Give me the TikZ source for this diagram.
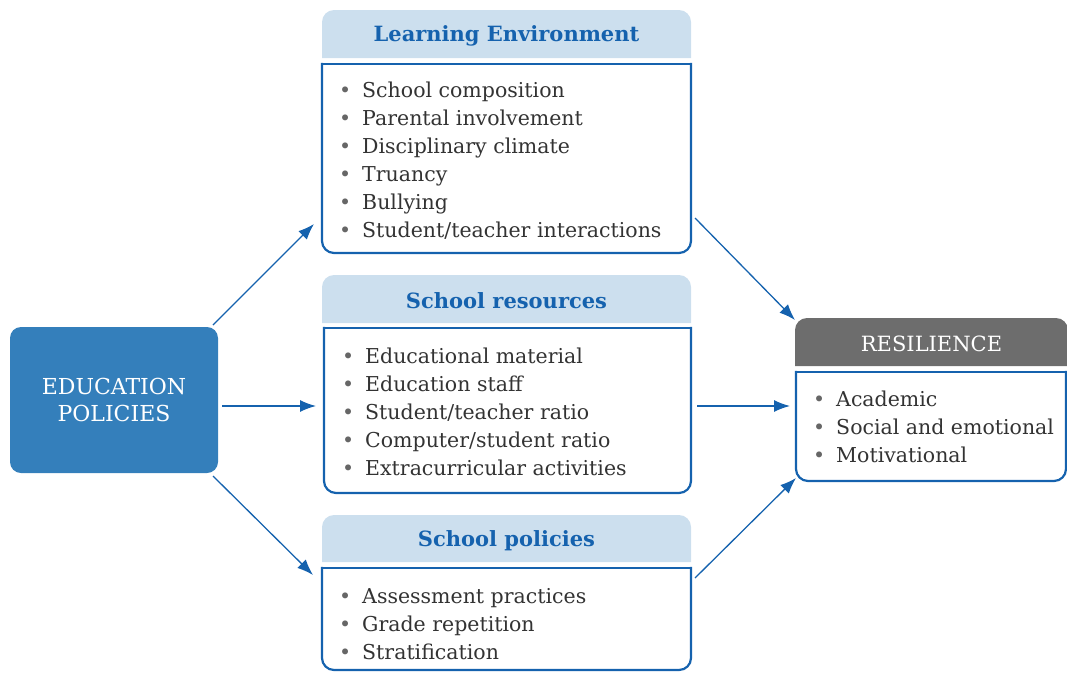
\documentclass[tikz,border=0pt]{standalone}
\usepackage{fontspec}
\setmainfont{DejaVu Serif}
\usetikzlibrary{arrows.meta}
\definecolor{blueline}{HTML}{1562AE}
\definecolor{hdrfill}{HTML}{CCDFEE}
\definecolor{hdrtext}{HTML}{1562AE}
\definecolor{edufill}{HTML}{347FBB}
\definecolor{resfill}{HTML}{6D6D6D}
\definecolor{bodytext}{HTML}{333333}
\definecolor{bulc}{HTML}{666666}
\newcommand{\bul}{\makebox[20pt][l]{\hspace{-3pt}\textcolor{bulc}{\textbullet}}}
\tikzset{
  box/.style={rectangle, inner sep=0pt, outer sep=0pt},
  bodyline/.style={draw=blueline, line width=2.2pt, line cap=rect},
  hdr/.style={fill=hdrfill},
  hdrlabel/.style={text=hdrtext, font=\bfseries\fontsize{21}{24}\selectfont},
  list/.style={anchor=north west, inner sep=0pt, align=left, text=bodytext, font=\fontsize{20.5}{28}\selectfont},
  arr/.style={draw=blueline, line width=1.3pt, -{Latex[length=16pt,width=12pt]}},
}
\begin{document}
\begin{tikzpicture}[x=1pt,y=-1pt]
\useasboundingbox (0,0) rectangle (1067,672);
% education policies
\node[box, minimum width=208pt, minimum height=146pt, fill=edufill, rounded corners=11pt, text=white, align=center, font=\fontsize{22}{27}\selectfont] (edu) at (114,400) {EDUCATION\\POLICIES};
% learning environment
\node[box, minimum width=369pt, minimum height=48pt] (leh) at (506.5,34) {};
\node[box, minimum width=369pt, minimum height=189pt] (leb) at (506.5,158.5) {};
% school resources
\node[box, minimum width=369pt, minimum height=48pt] (srh) at (506.5,299) {};
\node[box, minimum width=367pt, minimum height=165pt] (srb) at (507.5,410.5) {};
% school policies
\node[box, minimum width=369pt, minimum height=47pt] (sph) at (506.5,538.5) {};
\node[box, minimum width=369pt, minimum height=102pt] (spb) at (506.5,619) {};
% resilience
\node[box, minimum width=273pt, minimum height=48pt] (rsh) at (931.5,342) {};
\node[box, minimum width=270pt, minimum height=109pt] (rsb) at (931,426.5) {};

\foreach \h in {leh,srh,sph}{
  \fill[hdr, rounded corners=12pt] (\h.south west) -- (\h.north west) -- (\h.north east) -- (\h.south east);
}
\fill[resfill, rounded corners=12pt] (rsh.south west) -- (rsh.north west) -- (rsh.north east) -- (rsh.south east);
\foreach \b in {leb,srb,spb,rsb}{
  \draw[bodyline, rounded corners=12pt] (\b.north west) -- (\b.south west) -- (\b.south east) -- (\b.north east);
  \draw[bodyline] (\b.north west) -- (\b.north east);
}

\node[hdrlabel] (let) at ([shift={(0,2)}]leh.center) {Learning Environment};
\node[hdrlabel] (srt) at ([shift={(0,2)}]srh.center) {School resources};
\node[hdrlabel] (spt) at ([shift={(0,2)}]sph.center) {School policies};
\node[text=white, font=\fontsize{21}{24}\selectfont] (rst) at ([shift={(0,2)}]rsh.center) {RESILIENCE};

\node[list] (lel) at (342,82) {\bul School composition\\\bul Parental involvement\\\bul Disciplinary climate\\\bul Truancy\\\bul Bullying\\\bul Student/teacher interactions};
\node[list] (srl) at (345,348) {\bul Educational material\\\bul Education staff\\\bul Student/teacher ratio\\\bul Computer/student ratio\\\bul Extracurricular activities};
\node[list] (spl) at (342,588) {\bul Assessment practices\\\bul Grade repetition\\\bul Stratification};
\node[list] (rsl) at (816,391) {\bul Academic\\\bul Social and emotional\\\bul Motivational};

% arrows
\draw[arr] ([shift={(-5,-2)}]edu.north east) -- ([shift={(-8,-29)}]leb.south west);
\draw[arr] ([shift={(4,6)}]edu.east) -- ([shift={(-8,-4.5)}]srb.west);
\draw[arr] ([shift={(-5,3)}]edu.south east) -- ([shift={(-9,7)}]spb.north west);
\draw[arr] ([shift={(4,-35)}]leb.south east) -- ([shift={(0,2)}]rsh.north west);
\draw[arr] ([shift={(6,-4.5)}]srb.east) -- ([shift={(-6,-20.5)}]rsb.west);
\draw[arr] ([shift={(4,10)}]spb.north east) -- ([shift={(0,-3)}]rsb.south west);
\end{tikzpicture}
\end{document}
